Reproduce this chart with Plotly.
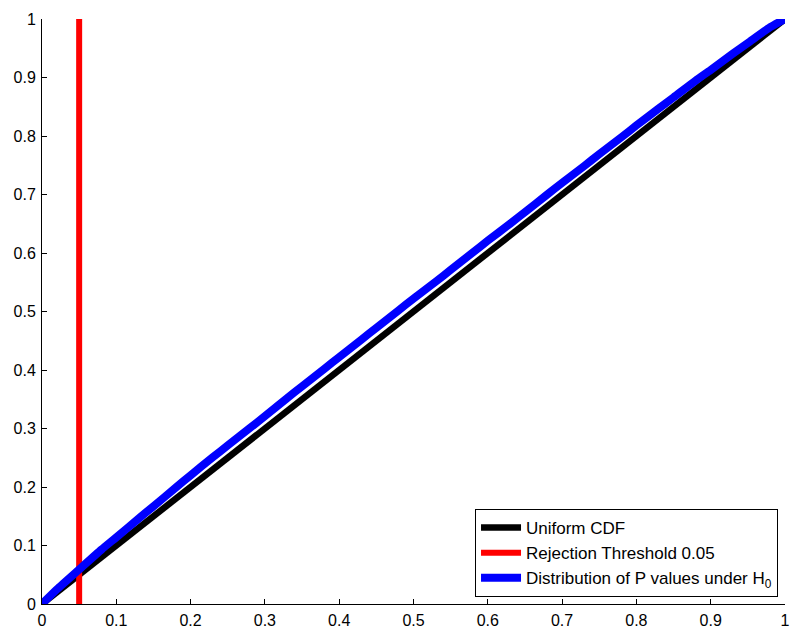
import plotly.graph_objects as go

uniform_x = [0, 1]
uniform_y = [0, 1]

threshold_x = [0.05, 0.05]
threshold_y = [0, 1]

pval_x = [0.0, 0.02, 0.05, 0.08, 0.1, 0.13, 0.15, 0.18, 0.2, 0.23, 0.25, 0.28, 0.3,
          0.33, 0.35, 0.38, 0.4, 0.43, 0.45, 0.48, 0.5, 0.53, 0.55, 0.58, 0.6, 0.63,
          0.65, 0.68, 0.7, 0.73, 0.75, 0.78, 0.8, 0.83, 0.85, 0.88, 0.9, 0.93, 0.95,
          0.98, 1.0]
pval_y = [0.0, 0.025, 0.059, 0.093, 0.114, 0.146, 0.167, 0.199, 0.220, 0.251, 0.271,
          0.301, 0.321, 0.352, 0.372, 0.402, 0.422, 0.452, 0.472, 0.502, 0.522, 0.551,
          0.571, 0.601, 0.621, 0.650, 0.670, 0.700, 0.720, 0.749, 0.769, 0.798, 0.818,
          0.847, 0.866, 0.895, 0.913, 0.941, 0.959, 0.986, 1.0]

tickvals = [0, 0.1, 0.2, 0.3, 0.4, 0.5, 0.6, 0.7, 0.8, 0.9, 1]
ticktext = ["0", "0.1", "0.2", "0.3", "0.4", "0.5", "0.6", "0.7", "0.8", "0.9", "1"]

fig = go.Figure()
fig.add_trace(go.Scatter(x=uniform_x, y=uniform_y, mode="lines",
                         line=dict(color="black", width=6.5), name="Uniform CDF"))
fig.add_trace(go.Scatter(x=threshold_x, y=threshold_y, mode="lines",
                         line=dict(color="#ff0000", width=6),
                         name="Rejection Threshold 0.05"))
fig.add_trace(go.Scatter(x=pval_x, y=pval_y, mode="lines",
                         line=dict(color="#0000ff", width=8, shape="spline", smoothing=0.6),
                         name="Distribution of P values under H<sub>0</sub>"))

font = dict(family="Liberation Sans, Arial, sans-serif", size=16, color="black")
legend_font = dict(family="Liberation Sans, Arial, sans-serif", size=17, color="black")

axis_common = dict(
    showline=True, linecolor="black", linewidth=1, mirror=False,
    ticks="inside", ticklen=5, tickcolor="black", tickwidth=1,
    showgrid=False, zeroline=False, automargin=False,
    tickfont=font, range=[0, 1], tickvals=tickvals, ticktext=ticktext,
    ticklabeloverflow="allow",
)

fig.update_layout(
    width=790, height=631,
    margin=dict(l=42, r=5, t=19, b=27),
    plot_bgcolor="white", paper_bgcolor="white",
    xaxis=dict(ticklabelstandoff=2, **axis_common),
    yaxis=dict(ticklabelstandoff=2, **axis_common),
    legend=dict(x=0.9906, y=0.012, xanchor="right", yanchor="bottom",
                bgcolor="white", bordercolor="black", borderwidth=1,
                font=legend_font, tracegroupgap=0, itemwidth=40),
    showlegend=True,
)

# remove the default 8px page margin so the 790x631 figure fills the window exactly
fig.write_html("out.html", config={"displayModeBar": False},
               post_script="document.body.style.margin='0';document.body.style.overflow='hidden';")
